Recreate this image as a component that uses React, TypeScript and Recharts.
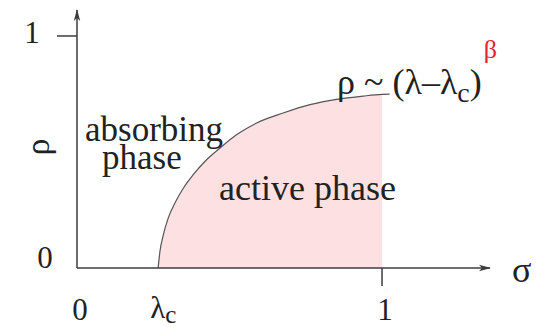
import React from 'react';
import { ComposedChart, Area, Line, XAxis, YAxis } from 'recharts';

// control parameter sigma (x) and order parameter rho (y)
const lambdaC = 0.266;
const sigma = [0.266, 0.272, 0.283, 0.299, 0.321, 0.349, 0.381, 0.42, 0.469, 0.524, 0.589, 0.676, 0.764, 0.851, 0.939, 1.0, 1.025];
const rho = [0, 0.072, 0.143, 0.215, 0.28, 0.345, 0.402, 0.46, 0.517, 0.575, 0.625, 0.668, 0.704, 0.727, 0.741, 0.748, 0.749];
const xTicks = [0, lambdaC, 1];
const yTicks = [0, 1];

const data = sigma.map((s, i) => ({
  sigma: s,
  rho: rho[i],
  active: s <= 1 ? rho[i] : null,
}));

const serif = '"Liberation Serif", "Times New Roman", "DejaVu Serif", serif';
const ink = '#222';
const axisInk = '#3c3c3c';

const XTick = (props: any) => {
  const { x, y, payload } = props;
  const v = payload.value;
  if (v === lambdaC) {
    return (
      <text x={x - 8} y={y + 50} fontSize={31} fontFamily={serif} fill={ink}>
        λ<tspan fontSize={25} dy={5}>c</tspan>
      </text>
    );
  }
  return (
    <g>
      {v === 1 && <line x1={x} y1={y} x2={x} y2={y + 18} stroke={axisInk} strokeWidth={1.5} />}
      <text x={x + 3} y={y + 52} textAnchor="middle" fontSize={31} fontFamily={serif} fill={ink}>
        {v}
      </text>
    </g>
  );
};

const YTick = (props: any) => {
  const { x, y, payload } = props;
  const v = payload.value;
  if (v === 1) {
    return (
      <g>
        <line x1={x - 20} y1={y} x2={x} y2={y} stroke={axisInk} strokeWidth={1.5} />
        <text x={x - 45} y={y + 7} textAnchor="middle" fontSize={31} fontFamily={serif} fill={ink}>1</text>
      </g>
    );
  }
  return (
    <text x={x - 32} y={y} textAnchor="middle" fontSize={31} fontFamily={serif} fill={ink}>0</text>
  );
};

export default function App() {
  return (
    <div style={{ position: 'absolute', left: 0, top: 0, width: 548, height: 327, background: '#fff' }}>
      <svg width={0} height={0} style={{ position: 'absolute' }}>
        <defs>
          <marker
            id="arrowhead"
            viewBox="0 0 12 8"
            refX={11}
            refY={4}
            markerWidth={12}
            markerHeight={8}
            markerUnits="userSpaceOnUse"
            orient="auto-start-reverse"
          >
            <path d="M0,0.8 L12,4 L0,7.2 L3,4 Z" fill={axisInk} />
          </marker>
        </defs>
      </svg>
      <ComposedChart width={548} height={327} data={data} margin={{ top: 10, right: 58, bottom: 0, left: 17 }}>
        <XAxis
          dataKey="sigma"
          type="number"
          domain={[0, 1.354]}
          ticks={xTicks}
          interval={0}
          height={59}
          tickSize={0}
          tickMargin={0}
          tickLine={false}
          axisLine={{ stroke: axisInk, strokeWidth: 1.5, markerEnd: 'url(#arrowhead)' }}
          tick={<XTick />}
        />
        <YAxis
          type="number"
          domain={[0, 1.112]}
          ticks={yTicks}
          interval={0}
          width={60}
          tickSize={0}
          tickMargin={0}
          tickLine={false}
          axisLine={{ stroke: axisInk, strokeWidth: 1.5, markerStart: 'url(#arrowhead)' }}
          tick={<YTick />}
        />
        <Area
          dataKey="active"
          type="monotone"
          fill="#fde0e1"
          fillOpacity={1}
          stroke="none"
          isAnimationActive={false}
        />
        <Line
          dataKey="rho"
          type="monotone"
          stroke="#555"
          strokeWidth={1.2}
          dot={false}
          isAnimationActive={false}
        />
      </ComposedChart>
      {/* annotations drawn above the series */}
      <svg width={548} height={327} style={{ position: 'absolute', left: 0, top: 0, pointerEvents: 'none' }}>
        <text x={37} y={147} transform="rotate(-90 37 147)" textAnchor="middle" dominantBaseline="central" fontSize={34} fontFamily={serif} fill={ink}>ρ</text>
        <text x={512} y={282} fontSize={36} fontFamily={serif} fill={ink}>σ</text>
        <text x={85} y={141} fontSize={35} fontFamily={serif} fill={ink}>absorbing</text>
        <text x={102} y={169} fontSize={35} fontFamily={serif} fill={ink}>phase</text>
        <text x={219} y={200} fontSize={36} fontFamily={serif} fill={ink}>active phase</text>
        <text x={337} y={94} fontSize={36} fontFamily={serif} fill={ink}>
          ρ ~ (λ–λ<tspan fontSize={28} dy={8}>c</tspan><tspan dy={-8}>)</tspan>
          <tspan fontSize={26} dx={2} dy={-36} fill="#e8202a">β</tspan>
        </text>
      </svg>
    </div>
  );
}
